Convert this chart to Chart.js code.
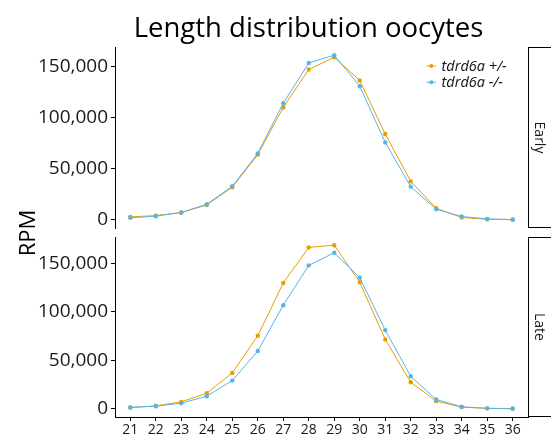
<!DOCTYPE html>
<html>
<head>
<meta charset="utf-8">
<script src="https://cdn.jsdelivr.net/npm/chart.js@4.4.0/dist/chart.umd.min.js"></script>
<style>
  html, body { margin: 0; padding: 0; background: #fff; }
  #wrap { position: relative; width: 551px; height: 437px; overflow: hidden; }
  #wrap canvas { position: absolute; left: 0; top: 0; }
</style>
</head>
<body>
<div id="wrap">
  <canvas id="earlyChart" width="551" height="437"></canvas>
  <canvas id="lateChart" width="551" height="437"></canvas>
</div>
<script>
// read lengths (nt) and RPM values off the reference picture
const lengths = [21, 22, 23, 24, 25, 26, 27, 28, 29, 30, 31, 32, 33, 34, 35, 36];
const yTicks = [0, 50000, 100000, 150000];
const seriesNames = ['tdrd6a +/-', 'tdrd6a -/-'];
const seriesColors = ['#E69F00', '#56B4E9'];

const earlyHet = [2900, 4200, 7200, 14600, 31900, 63800, 110000, 147100, 159100, 136300, 84000, 37700, 11400, 2300, 650, 100];
const earlyMut = [2000, 3600, 7200, 15300, 32900, 65100, 114200, 153600, 161100, 130800, 75800, 32500, 10400, 3300, 1000, 300];
const lateHet = [1000, 3100, 7200, 16100, 37000, 75300, 129800, 166500, 168800, 130500, 71600, 27400, 7900, 1700, 500, 300];
const lateMut = [1700, 2700, 5800, 13000, 29100, 59600, 106900, 148000, 161000, 135300, 81200, 33600, 9600, 2100, 500, 0];

const FONT = '"Open Sans", "DejaVu Sans", sans-serif';
const PANEL_LEFT = 115;
const PANEL_RIGHT = 528;

// ggplot-style 5% expansion of the y range
function expandRange(a, b) {
  const all = a.concat(b);
  const lo = Math.min(...all), hi = Math.max(...all);
  const pad = (hi - lo) * 0.05;
  return [lo - pad, hi + pad];
}

function toPoints(values) {
  return values.map((v, i) => ({ x: lengths[i], y: v }));
}

// facet strip box on the right with a rotated label
const facetStrip = {
  id: 'facetStrip',
  afterDraw(chart, args, opts) {
    const { ctx, chartArea } = chart;
    ctx.save();
    ctx.strokeStyle = '#000';
    ctx.lineWidth = 1;
    ctx.strokeRect(PANEL_RIGHT + 0.5, chartArea.top + 0.5, 40, chartArea.bottom - chartArea.top - 1);
    ctx.fillStyle = '#1a1a1a';
    ctx.font = '14px ' + FONT;
    ctx.translate(539, (chartArea.top + chartArea.bottom) / 2);
    ctx.rotate(Math.PI / 2);
    ctx.textAlign = 'center';
    ctx.textBaseline = 'middle';
    ctx.fillText(opts.label, 0, 0);
    ctx.restore();
  }
};

// title, y axis title and legend (drawn once, on the top chart)
const decorations = {
  id: 'decorations',
  afterDraw(chart, args, opts) {
    if (!opts.enabled) return;
    const { ctx } = chart;
    ctx.save();
    ctx.fillStyle = '#000';
    ctx.font = '27.5px ' + FONT;
    ctx.textAlign = 'center';
    ctx.textBaseline = 'alphabetic';
    ctx.fillText('Length distribution oocytes', 308.5, 36.5);

    ctx.save();
    ctx.font = '22px ' + FONT;
    ctx.translate(35, 233);
    ctx.rotate(-Math.PI / 2);
    ctx.fillText('RPM', 0, 0);
    ctx.restore();

    ctx.textAlign = 'left';
    ctx.font = 'italic 14.5px ' + FONT;
    seriesNames.forEach((name, i) => {
      const y = 66 + i * 16.3;
      ctx.strokeStyle = seriesColors[i];
      ctx.fillStyle = seriesColors[i];
      ctx.lineWidth = 1;
      ctx.beginPath();
      ctx.moveTo(426.5, y);
      ctx.lineTo(436, y);
      ctx.stroke();
      ctx.beginPath();
      ctx.arc(431.3, y, 2, 0, Math.PI * 2);
      ctx.fill();
      ctx.fillStyle = '#111';
      ctx.fillText(name, 441.5, y + 5);
    });
    ctx.restore();
  }
};

function makePanel(canvasId, het, mut, opts) {
  const [yMin, yMax] = expandRange(het, mut);
  return new Chart(document.getElementById(canvasId), {
    type: 'line',
    data: {
      datasets: [
        {
          label: seriesNames[0],
          data: toPoints(het),
          borderColor: seriesColors[0],
          backgroundColor: seriesColors[0],
          borderWidth: 1,
          pointRadius: 2.2,
          pointBorderWidth: 0,
          tension: 0,
          order: 2
        },
        {
          label: seriesNames[1],
          data: toPoints(mut),
          borderColor: seriesColors[1],
          backgroundColor: seriesColors[1],
          borderWidth: 1,
          pointRadius: 2.2,
          pointBorderWidth: 0,
          tension: 0,
          order: 1
        }
      ]
    },
    options: {
      responsive: false,
      devicePixelRatio: 1,
      animation: false,
      events: [],
      layout: {
        padding: { top: opts.top, bottom: opts.bottom, left: 0, right: 551 - PANEL_RIGHT }
      },
      scales: {
        x: {
          type: 'linear',
          display: opts.showX,
          min: 20.4,
          max: 36.6,
          afterBuildTicks: (scale) => { scale.ticks = lengths.map(v => ({ value: v })); },
          afterFit: (scale) => { scale.height = opts.showX ? 20 : 0; },
          grid: { drawOnChartArea: false, drawTicks: true, tickLength: 4, color: '#000' },
          border: { display: true, color: '#000', width: 1 },
          ticks: {
            color: '#1a1a1a',
            font: { family: FONT, size: 14 },
            padding: 1,
            maxRotation: 0,
            autoSkip: false,
            callback: (v) => String(v)
          }
        },
        y: {
          min: yMin,
          max: yMax,
          afterBuildTicks: (scale) => { scale.ticks = yTicks.map(v => ({ value: v })); },
          afterFit: (scale) => { scale.width = PANEL_LEFT; },
          grid: { drawOnChartArea: false, drawTicks: true, tickLength: 4, color: '#000' },
          border: { display: true, color: '#000', width: 1 },
          ticks: {
            color: '#1a1a1a',
            font: { family: FONT, size: 19 },
            padding: 3,
            callback: (v) => v.toLocaleString('en-US')
          }
        }
      },
      plugins: {
        legend: { display: false },
        tooltip: { enabled: false },
        facetStrip: { label: opts.label },
        decorations: { enabled: opts.decorate }
      }
    },
    plugins: [facetStrip, decorations]
  });
}

makePanel('earlyChart', earlyHet, earlyMut, { top: 47, bottom: 437 - 228, showX: false, label: 'Early', decorate: true });
makePanel('lateChart', lateHet, lateMut, { top: 237, bottom: 0, showX: true, label: 'Late', decorate: false });
</script>
</body>
</html>
